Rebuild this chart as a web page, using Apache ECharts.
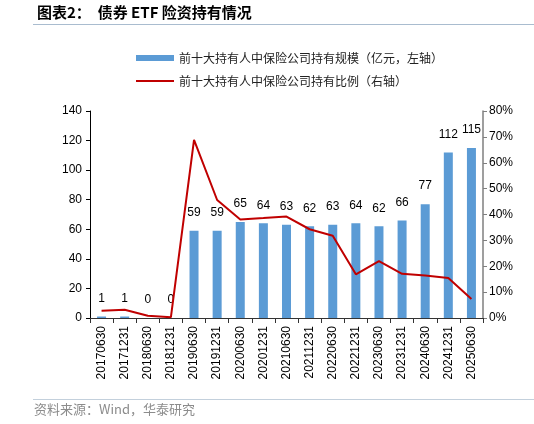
<!DOCTYPE html>
<html><head><meta charset="utf-8">
<script src="https://cdn.jsdelivr.net/npm/echarts@6/dist/echarts.min.js"></script>
<style>html,body{margin:0;padding:0;background:#fff}#c{width:534px;height:424px}</style>
</head><body><div id="c"></div>
<script>
const categories = ['20170630','20171231','20180630','20181231','20190630','20191231','20200630','20201231','20210630','20211231','20220630','20221231','20230630','20231231','20240630','20241231','20250630'];
const scaleValues = [1, 1, 0, 0, 59, 59, 65, 64, 63, 62, 63, 64, 62, 66, 77, 112, 115];
const ratioValues = [2.8, 3.2, 0.9, 0.3, 68.8, 45.6, 38.1, 38.6, 39.2, 34.3, 31.8, 16.9, 22.0, 17.1, 16.4, 15.5, 7.3];
const leftTicks = {min: 0, max: 140, interval: 20};
const rightTicks = {min: 0, max: 80, interval: 10};
const seriesNames = ['前十大持有人中保险公司持有规模（亿元，左轴）', '前十大持有人中保险公司持有比例（右轴）'];

const cjk = '"Noto Sans CJK SC", sans-serif';
const num = '"Liberation Sans", Arial, sans-serif';
const chart = echarts.init(document.getElementById('c'));
chart.setOption({
  animation: false,
  textStyle: {fontFamily: num},
  graphic: [
    {type: 'text', left: 37, top: 5, style: {text: '图表2：  债券 ETF 险资持有情况', font: 'bold 15px ' + cjk, fill: '#000'}},
    {type: 'line', shape: {x1: 33, y1: 24.5, x2: 534, y2: 24.5}, style: {stroke: '#a9bccf', lineWidth: 1}},
    {type: 'line', shape: {x1: 33, y1: 399.5, x2: 534, y2: 399.5}, style: {stroke: '#c3d0dc', lineWidth: 1}},
    {type: 'text', left: 34, top: 403, style: {text: '资料来源：Wind，华泰研究', font: '13px ' + cjk, fill: '#8c8c8c'}}
  ],
  legend: {
    orient: 'vertical', left: 131, top: 47, itemGap: 11, itemWidth: 38, itemHeight: 6,
    textStyle: {fontFamily: cjk, fontSize: 12, color: '#222'},
    data: [{name: seriesNames[0], icon: 'rect'}, {name: seriesNames[1], icon: 'path://M0,0H38V2H0Z'}]
  },
  grid: {left: 90, right: 51, top: 111, bottom: 106},
  xAxis: {
    type: 'category', data: categories,
    axisLine: {lineStyle: {color: '#333'}},
    axisTick: {show: true, alignWithLabel: false, length: 5, lineStyle: {color: '#333'}},
    axisLabel: {rotate: 90, fontSize: 12, color: '#000', margin: 8, fontFamily: num}
  },
  yAxis: [
    {type: 'value', min: leftTicks.min, max: leftTicks.max, interval: leftTicks.interval,
     splitLine: {show: false},
     axisLine: {show: true, lineStyle: {color: '#000'}},
     axisTick: {show: true, length: 4, lineStyle: {color: '#000'}},
     axisLabel: {fontSize: 12, color: '#000', margin: 8}},
    {type: 'value', min: rightTicks.min, max: rightTicks.max, interval: rightTicks.interval,
     splitLine: {show: false},
     axisLine: {show: true, lineStyle: {color: '#7f7f7f', width: 1.5}},
     axisTick: {show: true, length: 4, lineStyle: {color: '#7f7f7f'}},
     axisLabel: {fontSize: 12, color: '#000', margin: 6, formatter: '{value}%'}}
  ],
  series: [
    {name: seriesNames[0], type: 'bar', data: scaleValues, barWidth: 9, yAxisIndex: 0,
     itemStyle: {color: '#5b9bd5'},
     label: {show: true, position: 'top', distance: 12, fontSize: 12, color: '#000', fontFamily: num}},
    {name: seriesNames[1], type: 'line', data: ratioValues, yAxisIndex: 1, symbol: 'none',
     lineStyle: {color: '#c00000', width: 2}, itemStyle: {color: '#c00000'}, z: 3}
  ]
});
</script></body></html>
